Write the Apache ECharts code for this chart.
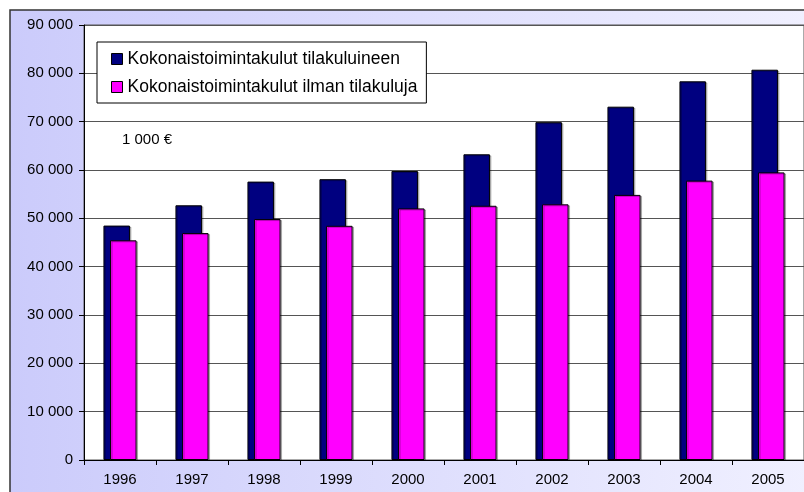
<!DOCTYPE html>
<html>
<head>
<meta charset="utf-8">
<script src="https://cdn.jsdelivr.net/npm/echarts@6/dist/echarts.min.js"></script>
<style>
  html, body { margin: 0; padding: 0; background: #fff; }
  #main { width: 804px; height: 492px; }
</style>
</head>
<body>
<div id="main"></div>
<script>
// values in 1 000 €
const years = ['1996', '1997', '1998', '1999', '2000', '2001', '2002', '2003', '2004', '2005'];
const withPremises = [48500, 52700, 57600, 58100, 59800, 63250, 69900, 73100, 78350, 80750];
const withoutPremises = [45450, 46950, 49850, 48450, 52050, 52600, 52900, 54850, 57800, 59500];
const seriesNames = ['Kokonaistoimintakulut tilakuluineen', 'Kokonaistoimintakulut ilman tilakuluja'];

const font = 'Liberation Sans, Arial, sans-serif';

function fmt(v) {
    return String(v).replace(/\B(?=(\d{3})+(?!\d))/g, ' ');
}

const chart = echarts.init(document.getElementById('main'));

const barStyle = color => ({
    color: color,
    borderColor: '#000',
    borderWidth: 1,
    shadowColor: 'rgba(0,0,0,0.25)',
    shadowOffsetX: 1.5,
    shadowOffsetY: 1,
    shadowBlur: 0
});

const option = {
    animation: false,
    backgroundColor: '#fff',
    textStyle: { fontFamily: font },
    graphic: [
        {
            type: 'rect',
            z: -10,
            silent: true,
            shape: { x: 10, y: 10, width: 820, height: 500 },
            style: {
                fill: new echarts.graphic.LinearGradient(0, 0, 1, 0, [
                    { offset: 0, color: '#cbcbfb' },
                    { offset: 1, color: '#f1f1ff' }
                ]),
                stroke: '#333',
                lineWidth: 1.5
            }
        },
        {
            type: 'text',
            left: 122,
            top: 132,
            style: { text: '1 000 €', fontSize: 15, fontFamily: font, fill: '#000' }
        }
    ],
    legend: {
        data: seriesNames,
        orient: 'vertical',
        left: 97,
        top: 42,
        padding: [8, 9, 7, 14],
        itemGap: 10,
        itemWidth: 11,
        itemHeight: 11,
        icon: 'rect',
        backgroundColor: '#fff',
        borderColor: '#000',
        borderWidth: 1,
        textStyle: { fontSize: 17.5, fontFamily: font, color: '#000' },
        itemStyle: { borderColor: '#000', borderWidth: 1, shadowBlur: 0, shadowOffsetX: 0, shadowOffsetY: 0 }
    },
    grid: {
        left: 84,
        top: 25,
        right: -5,
        bottom: 32,
        show: true,
        backgroundColor: '#fff',
        borderColor: '#555',
        borderWidth: 1
    },
    xAxis: {
        type: 'category',
        data: years,
        axisLine: { lineStyle: { color: '#000', width: 1 } },
        axisTick: { show: true, length: 5, lineStyle: { color: '#000' } },
        axisLabel: { color: '#000', fontSize: 15, fontFamily: font, margin: 12 }
    },
    yAxis: {
        type: 'value',
        min: 0,
        max: 90000,
        interval: 10000,
        axisLine: { show: true, lineStyle: { color: '#000', width: 1 } },
        axisTick: { show: true, length: 5, lineStyle: { color: '#000' } },
        axisLabel: { color: '#000', fontSize: 15, fontFamily: font, margin: 11, formatter: fmt },
        splitLine: { lineStyle: { color: '#555', width: 1 } }
    },
    series: [
        {
            name: seriesNames[0],
            type: 'bar',
            data: withPremises,
            barWidth: 26.5,
            barGap: '-75%',
            itemStyle: barStyle('#000080')
        },
        {
            name: seriesNames[1],
            type: 'bar',
            data: withoutPremises,
            barWidth: 26.5,
            itemStyle: barStyle('#ff00ff')
        }
    ]
};

chart.setOption(option);
</script>
</body>
</html>
